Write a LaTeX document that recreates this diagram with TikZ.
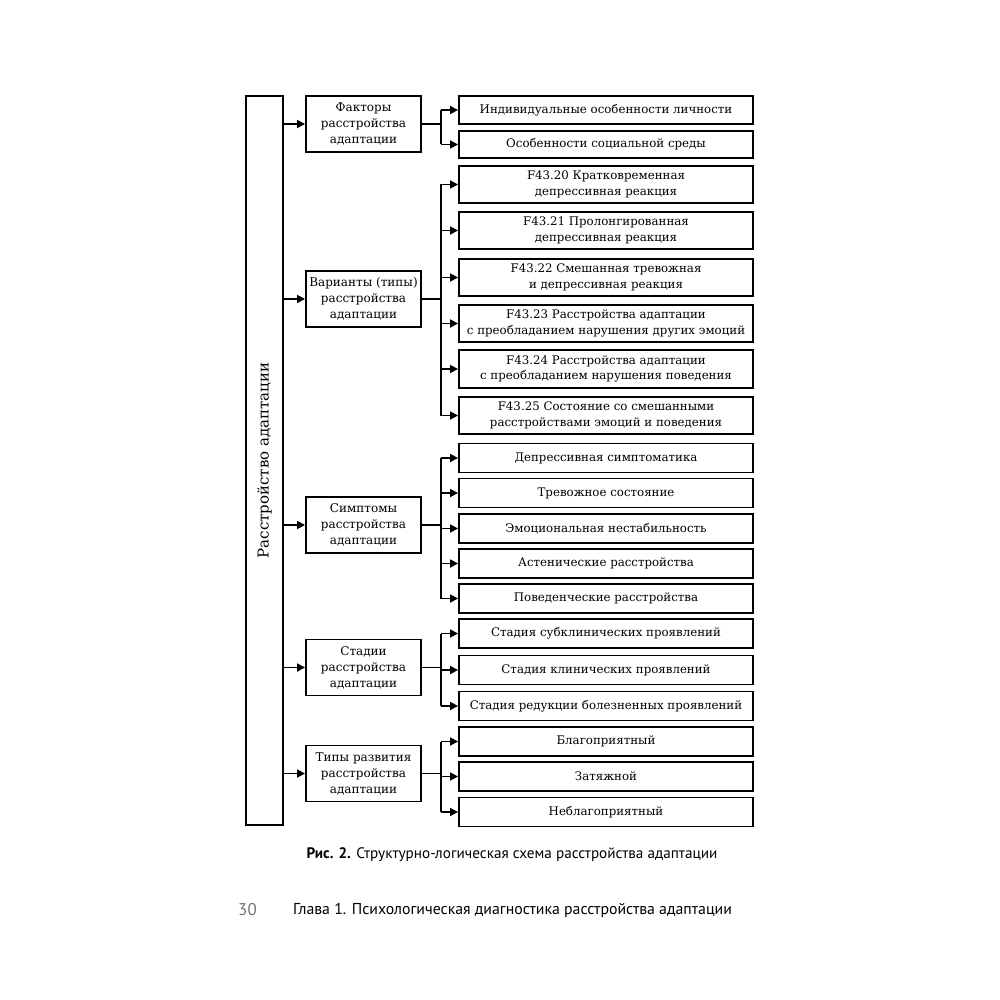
\documentclass[tikz,border=0pt]{standalone}
\usepackage{fontspec}
\setmainfont{DejaVu Serif}
\newfontfamily\capfont{PT Sans}
\usetikzlibrary{arrows.meta}
\begin{document}
\begin{tikzpicture}[x=1pt,y=-1pt,
  box/.style={draw, line width=1.9pt, inner sep=0pt, align=center,
    font=\fontsize{11.8}{15.5}\selectfont},
  rbox/.style={box, minimum width=294pt},
  mbox/.style={box, minimum width=115pt, minimum height=56pt, font=\fontsize{12}{16}\selectfont},
  arr/.style={-{Triangle[length=8pt,width=8pt]}, line width=1.7pt},
  ln/.style={line width=1.7pt}]
\useasboundingbox (0,0) rectangle (1000,1000);
% left box
\node[box, minimum width=37pt, minimum height=729pt] (L) at (264.5,460.5) {};
\node[rotate=90, font=\fontsize{15}{17}\selectfont] (Lt) at (L.center) {Расстройство адаптации};
% middle boxes
\node[mbox] (m1) at (363.5,124) {Факторы\\расстройства\\адаптации};
\node[mbox] (m2) at (363.5,299) {Варианты (типы)\\расстройства\\адаптации};
\node[mbox] (m3) at (363.5,525) {Симптомы\\расстройства\\адаптации};
\node[mbox] (m4) at (363.5,667.5) {Стадии\\расстройства\\адаптации};
\node[mbox] (m5) at (363.5,773.5) {Типы развития\\расстройства\\адаптации};
% right boxes
\node[rbox, minimum height=28pt] (r1) at (606,110) {Индивидуальные особенности личности};
\node[rbox, minimum height=27pt] (r2) at (606,144.5) {Особенности социальной среды};
\node[rbox, minimum height=37pt] (v1) at (606,184.5) {F43.20 Кратковременная\\депрессивная реакция};
\node[rbox, minimum height=37pt] (v2) at (606,230.5) {F43.21 Пролонгированная\\депрессивная реакция};
\node[rbox, minimum height=37pt] (v3) at (606,277.5) {F43.22 Смешанная тревожная\\и депрессивная реакция};
\node[rbox, minimum height=37pt] (v4) at (606,323.5) {F43.23 Расстройства адаптации\\с преобладанием нарушения других эмоций};
\node[rbox, minimum height=38pt] (v5) at (606,369) {F43.24 Расстройства адаптации\\с преобладанием нарушения поведения};
\node[rbox, minimum height=37pt] (v6) at (606,415.5) {F43.25 Состояние со смешанными\\расстройствами эмоций и поведения};
\node[rbox, minimum height=29pt] (s1) at (606,458) {Депрессивная симптоматика};
\node[rbox, minimum height=29pt] (s2) at (606,493) {Тревожное состояние};
\node[rbox, minimum height=29pt] (s3) at (606,528.5) {Эмоциональная нестабильность};
\node[rbox, minimum height=29pt] (s4) at (606,563.5) {Астенические расстройства};
\node[rbox, minimum height=29pt] (s5) at (606,598.5) {Поведенческие расстройства};
\node[rbox, minimum height=29pt] (t1) at (606,633.5) {Стадия субклинических проявлений};
\node[rbox, minimum height=29pt] (t2) at (606,670) {Стадия клинических проявлений};
\node[rbox, minimum height=29pt] (t3) at (606,706) {Стадия редукции болезненных проявлений};
\node[rbox, minimum height=29pt] (d1) at (606,741.5) {Благоприятный};
\node[rbox, minimum height=29pt] (d2) at (606,776.5) {Затяжной};
\node[rbox, minimum height=29pt] (d3) at (606,812) {Неблагоприятный};
\coordinate (bus) at (441,0);
% left arrows
\foreach \m in {m1,m2,m3,m4,m5}{\draw[arr] (\m.west -| L.east) -- (\m.west);}
% groups
\draw[ln] (m1.east) -- (m1.east -| bus);
\draw[ln] (r1.west -| bus) -- (r2.west -| bus);
\foreach \r in {r1,r2}{\draw[arr] (\r.west -| bus) -- (\r.west);}
\draw[ln] (m2.east) -- (m2.east -| bus);
\draw[ln] (v1.west -| bus) -- (v6.west -| bus);
\foreach \r in {v1,v2,v3,v4,v5,v6}{\draw[arr] (\r.west -| bus) -- (\r.west);}
\draw[ln] (m3.east) -- (m3.east -| bus);
\draw[ln] (s1.west -| bus) -- (s5.west -| bus);
\foreach \r in {s1,s2,s3,s4,s5}{\draw[arr] (\r.west -| bus) -- (\r.west);}
\draw[ln] (m4.east) -- (m4.east -| bus);
\draw[ln] (t1.west -| bus) -- (t3.west -| bus);
\foreach \r in {t1,t2,t3}{\draw[arr] (\r.west -| bus) -- (\r.west);}
\draw[ln] (m5.east) -- (m5.east -| bus);
\draw[ln] (d1.west -| bus) -- (d3.west -| bus);
\foreach \r in {d1,d2,d3}{\draw[arr] (\r.west -| bus) -- (\r.west);}
% caption and footer
\node[font=\capfont\fontsize{15.2}{17}\selectfont] (cap) at (512,855) {\textbf{Рис. 2.} Структурно-логическая схема расстройства адаптации};
\node[font=\capfont\fontsize{17}{19}\selectfont, text=black!55] (pg) at (247.5,910) {30};
\node[font=\capfont\fontsize{15.8}{18}\selectfont, anchor=west, inner sep=0pt] (ch) at (293,910) {Глава 1. Психологическая диагностика расстройства адаптации};
\end{tikzpicture}
\end{document}
